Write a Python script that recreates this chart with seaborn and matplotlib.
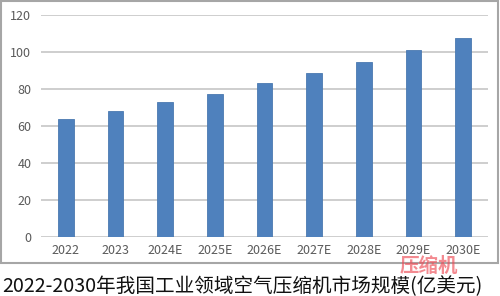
import matplotlib
matplotlib.use("Agg")
import matplotlib.pyplot as plt
import seaborn as sns
import pandas as pd
from matplotlib.patches import Rectangle

# 数据
years = ["2022", "2023", "2024E", "2025E", "2026E", "2027E", "2028E", "2029E", "2030E"]
market_size = [63.5, 68.3, 72.8, 77.5, 83.0, 88.5, 94.3, 100.8, 107.5]
title = "2022-2030年我国工业领域空气压缩机市场规模(亿美元)"
yticks = [0, 20, 40, 60, 80, 100, 120]

df = pd.DataFrame({"year": years, "size": market_size})

sns.set_style("white")
plt.rcParams["font.family"] = ["Noto Sans CJK SC", "DejaVu Sans"]

fig = plt.figure(figsize=(5.0, 2.96), dpi=100)
ax = fig.add_axes([0.082, 0.199, 0.894, 0.751])

sns.barplot(data=df, x="year", y="size", color="#4f81bd", width=0.32,
            saturation=1, edgecolor="#4a79b0", linewidth=0.6, ax=ax, zorder=3)

ax.set_ylim(0, 120)
ax.set_yticks(yticks)
ax.yaxis.grid(True, color="#c6c6c6", linewidth=1.2, zorder=0)
ax.set_axisbelow(True)
for s in ax.spines.values():
    s.set_visible(False)
ax.tick_params(axis="both", length=0, labelsize=9, colors="#5a5a5a")
ax.tick_params(axis="y", pad=7)
ax.tick_params(axis="x", pad=5)
ax.set_xlabel("")
ax.set_ylabel("")

# 外框
fig.patches.append(Rectangle((0.002, 0.112), 0.994, 0.884, transform=fig.transFigure,
                             fill=False, edgecolor="#a6a6a6", linewidth=1.5))

# 标题
fig.text(0.004, 0.031, title, fontsize=14.1, color="#111111", ha="left", va="center")

# 水印
fig.text(0.80, 0.099, "压缩机", fontsize=14, fontweight="bold", color="#ee4b55",
         alpha=0.65, ha="left", va="center")

fig.savefig("out.png", dpi=100)
